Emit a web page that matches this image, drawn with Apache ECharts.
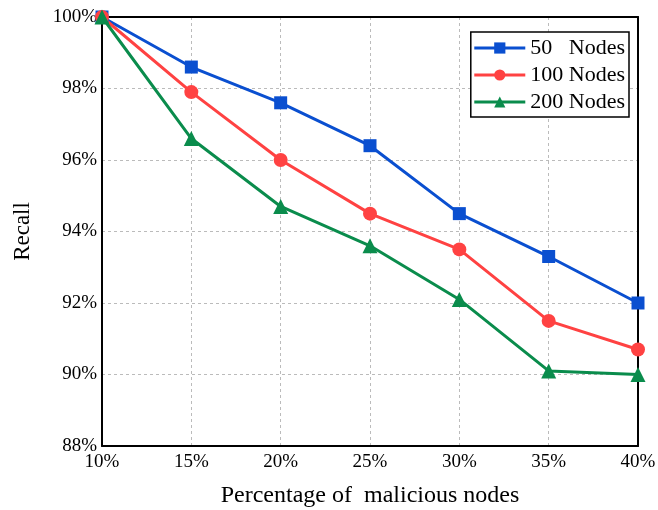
<!DOCTYPE html>
<html><head><meta charset="utf-8">
<script src="https://cdn.jsdelivr.net/npm/echarts@6/dist/echarts.min.js"></script>
<style>html,body{margin:0;padding:0;background:#fff}#c{width:658px;height:510px}</style>
</head><body><div id="c"></div>
<script>
const xValues = [10, 15, 20, 25, 30, 35, 40];
const nodes50 = [100, 98.6, 97.6, 96.4, 94.5, 93.3, 92.0];
const nodes100 = [100, 97.9, 96.0, 94.5, 93.5, 91.5, 90.7];
const nodes200 = [100, 96.6, 94.7, 93.6, 92.1, 90.1, 90.0];
const seriesNames = ['50   Nodes', '100 Nodes', '200 Nodes'];

const font = 'Liberation Serif';
const pair = arr => arr.map((v, i) => [xValues[i], v]);
const mk = (name, data, color, symbol, size) => ({
  name, type: 'line', data: pair(data), symbol, symbolSize: size,
  lineStyle: { color, width: 3 }, itemStyle: { color }, z: 3
});
const frameAxis = (pos, min, max) => ({
  type: 'value', position: pos, min, max,
  axisLine: { show: true, onZero: false, lineStyle: { color: '#000', width: 2 } },
  axisTick: { show: false }, axisLabel: { show: false }, splitLine: { show: false }
});
const chart = echarts.init(document.getElementById('c'));
chart.setOption({
  animation: false,
  backgroundColor: '#fff',
  grid: { left: 102, right: 20, top: 17, bottom: 64, outerBoundsMode: 'none', containLabel: false },
  xAxis: [{
    type: 'value', min: 10, max: 40, interval: 5,
    name: 'Percentage of  malicious nodes', nameLocation: 'middle', nameGap: 38,
    nameTextStyle: { fontFamily: font, fontSize: 24, color: '#000' },
    axisLine: { onZero: false, lineStyle: { color: '#000', width: 2 } },
    axisTick: { show: false },
    axisLabel: { fontFamily: font, fontSize: 19, color: '#000', formatter: v => v + '%', margin: 7 },
    splitLine: { show: true, lineStyle: { color: '#bbb', type: [3, 3], width: 1 } }
  }, frameAxis('top', 10, 40)],
  yAxis: [{
    type: 'value', min: 88, max: 100, interval: 2,
    name: 'Recall', nameLocation: 'middle', nameGap: 68,
    nameTextStyle: { fontFamily: font, fontSize: 23, color: '#000' },
    axisLine: { show: true, onZero: false, lineStyle: { color: '#000', width: 2 } },
    axisTick: { show: false },
    axisLabel: { fontFamily: font, fontSize: 19, color: '#000', formatter: v => v + '%', margin: 5 },
    splitLine: { show: true, lineStyle: { color: '#bbb', type: [3, 3], width: 1 } }
  }, frameAxis('right', 88, 100)],
  legend: {
    right: 29, top: 32, orient: 'vertical', itemGap: 5,
    itemWidth: 51, itemHeight: 14,
    borderColor: '#000', borderWidth: 1.5, padding: [5, 4, 4, 2],
    backgroundColor: '#fff',
    lineStyle: { width: 3 },
    textStyle: { fontFamily: font, fontSize: 22, color: '#000' },
    data: seriesNames
  },
  series: [
    mk(seriesNames[0], nodes50, '#0A4FD0', 'rect', 13),
    mk(seriesNames[1], nodes100, '#FF4242', 'circle', 14),
    mk(seriesNames[2], nodes200, '#0A8C4C', 'triangle', 15)
  ]
});
</script></body></html>
